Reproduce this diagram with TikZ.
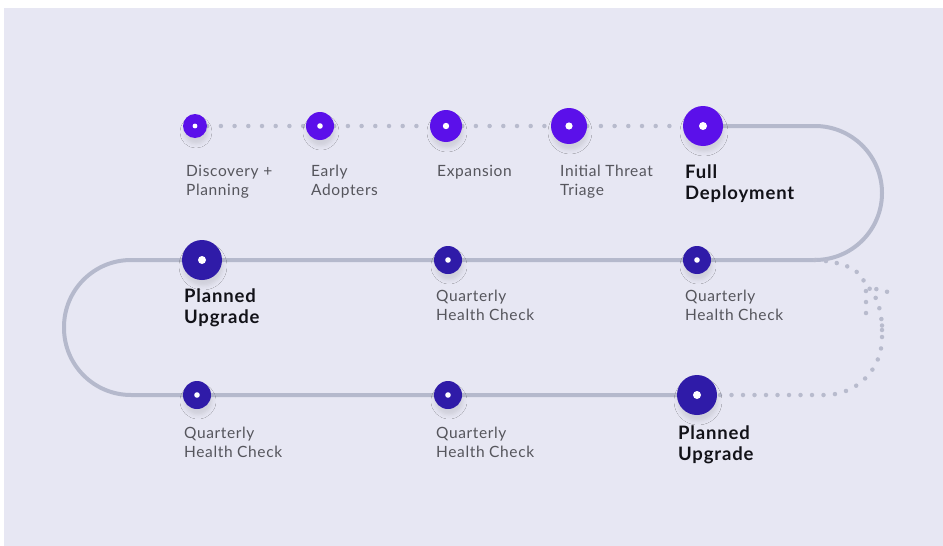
\documentclass[tikz,border=0pt]{standalone}
\usepackage{fontspec}
\setmainfont{Lato}[LetterSpace=4]
\newfontfamily\keyfont{Lato}[LetterSpace=4.5]
\usepackage{tikz}
\usetikzlibrary{positioning}
\usetikzlibrary{calc}
\usetikzlibrary{backgrounds}
\usetikzlibrary{shadows.blur}

\definecolor{panelbg}{RGB}{231,231,243}
\definecolor{violetdot}{RGB}{91,16,234}
\definecolor{indigodot}{RGB}{47,27,168}
\definecolor{trackgray}{RGB}{181,185,204}
\definecolor{dotgray}{RGB}{184,187,205}
\definecolor{labelgray}{RGB}{85,85,92}
\definecolor{labelblack}{RGB}{18,18,24}

\tikzset{
	milestone/.style={circle, inner sep=0pt, minimum size=#1, fill=violetdot,
		blur shadow={shadow xshift=1pt, shadow yshift=-6pt, shadow blur radius=4pt, shadow opacity=10},
		path picture={\fill[white] (path picture bounding box.center) circle[radius=0.1*#1];}},
	upgrade/.style={milestone=#1, fill=indigodot},
	steptext/.style={anchor=north west, inner sep=0pt, align=left, text=labelgray,
		font=\fontsize{15.5}{19}\selectfont},
	keytext/.style={steptext, text=labelblack, font=\keyfont\fontsize{18.5}{21}\selectfont\bfseries},
	track/.style={draw=trackgray, line width=4pt, rounded corners=67pt},
	dotline/.style={draw=dotgray, line width=4.5pt, line cap=round, dash pattern=on 0pt off #1},
}

\begin{document}
\begin{tikzpicture}[x=1pt, y=-1pt]
				\useasboundingbox (0,0) rectangle (943,546);

				% nodes
				\node[milestone=24pt] (disc) at (195,126) {};
				\node[milestone=28pt] (early) at (320,126) {};
				\node[milestone=32pt] (expa) at (446,126) {};
				\node[milestone=36pt] (triage) at (569,126) {};
				\node[milestone=40pt] (full) at (703,126) {};

				\node[upgrade=40pt] (plana) at (202,260) {};
				\node[upgrade=28pt] (checka) at (448,260) {};
				\node[upgrade=28pt] (checkb) at (697,260) {};

				\node[upgrade=28pt] (checkc) at (197,395) {};
				\node[upgrade=28pt] (checkd) at (448,395) {};
				\node[upgrade=40pt] (planb) at (697,395) {};

				\coordinate (turn) at (815,260);

				% labels
				\node[steptext] (discl) at ($(disc)+(-9,39)$) {Discovery +\\Planning};
				\node[steptext] (earlyl) at ($(early)+(-9,39)$) {Early\\Adopters};
				\node[steptext] (expal) at ($(expa)+(-9,39)$) {Expansion};
				\node[steptext] (triagel) at ($(triage)+(-9,39)$) {Initial Threat\\Triage};
				\node[keytext] (fulll) at ($(full)+(-18,39)$) {Full\\Deployment};

				\node[keytext] (planal) at ($(plana)+(-18,29)$) {Planned\\Upgrade};
				\node[steptext] (checkal) at ($(checka)+(-12,30)$) {Quarterly\\Health Check};
				\node[steptext] (checkbl) at ($(checkb)+(-12,30)$) {Quarterly\\Health Check};

				\node[steptext] (checkcl) at ($(checkc)+(-13,32)$) {Quarterly\\Health Check};
				\node[steptext] (checkdl) at ($(checkd)+(-12,32)$) {Quarterly\\Health Check};
				\node[keytext] (planbl) at ($(planb)+(-19,31)$) {Planned\\Upgrade};

				% edges
				\begin{scope}[on background layer]
					\fill[white] (0,0) rectangle (943,546);
					\fill[panelbg] (4,8) rectangle (943,546);

					\draw[dotline=13.7pt] (disc) -- (early);
					\draw[dotline=13.7pt] (early) -- (expa);
					\draw[dotline=13.7pt] (expa) -- (triage);
					\draw[dotline=13.7pt] (triage) -- (full);

					\draw[track] (full.center) -- (882,126) -- (882,260) -- (64,260)
						-- (64,395) -- (planb.center);

					\draw[dotline=11.5pt, rounded corners=57pt] (planb.center) -- (882,395)
						-- (882,325);
					\draw[dotline=11pt] (882,330) .. controls (882,310) and (876,294) .. (868,287)
						-- (888,292);
					\draw[dotline=11pt] (turn) .. controls (845,262) and (866,270) .. (866,292)
						-- (866,318);
				\end{scope}
			\end{tikzpicture}
\end{document}
